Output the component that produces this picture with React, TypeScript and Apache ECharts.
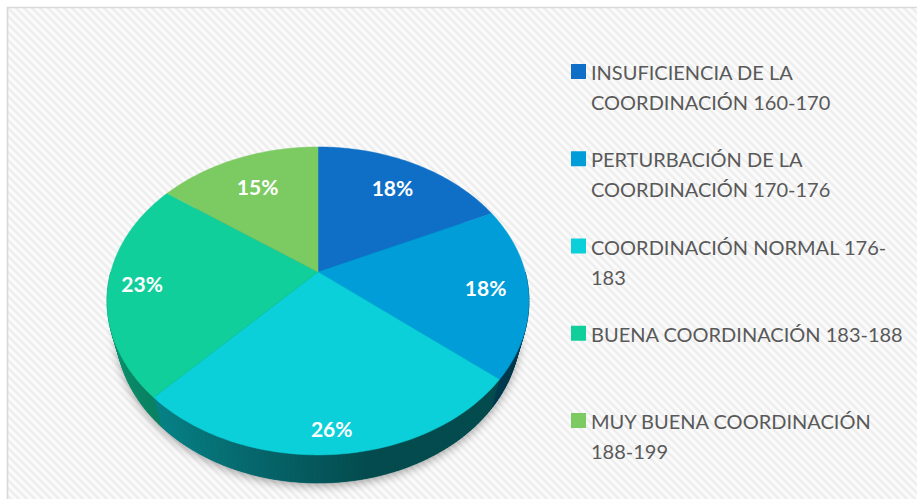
import React, { useEffect, useRef } from "react";
import * as echarts from "echarts";

// ---- data ----
const categories = [
  "INSUFICIENCIA DE LA COORDINACIÓN 160-170",
  "PERTURBACIÓN DE LA COORDINACIÓN 170-176",
  "COORDINACIÓN NORMAL 176-183",
  "BUENA COORDINACIÓN 183-188",
  "MUY BUENA COORDINACIÓN 188-199",
];
const legendLines = [
  ["INSUFICIENCIA DE LA", "COORDINACIÓN 160-170"],
  ["PERTURBACIÓN DE LA", "COORDINACIÓN 170-176"],
  ["COORDINACIÓN NORMAL 176-", "183"],
  ["BUENA COORDINACIÓN 183-188"],
  ["MUY BUENA COORDINACIÓN", "188-199"],
];
const percentages = [18, 18, 26, 23, 15];
const colors = ["#0F6FC6", "#009DD9", "#0BD0D9", "#10CF9B", "#7CCA62"];

// ---- layout / 3D view ----
const CX = 318;
const CY = 272;
const TILT = (45.8 * Math.PI) / 180;
const DIST = 3.71;
const FOCAL = 768.7;
const THICK = 0.22;
const labelRadius = [0.75, 0.8, 0.88, 0.84, 0.72];

function project(X: number, Y: number, Z: number): number[] {
  const up = Y * Math.cos(TILT) + Z * Math.sin(TILT);
  const depth = DIST + Z * Math.cos(TILT) - Y * Math.sin(TILT);
  return [CX + (FOCAL * X) / depth, CY - (FOCAL * up) / depth];
}
function rim(phi: number, r: number, Y: number): number[] {
  return project(r * Math.sin(phi), Y, r * Math.cos(phi));
}
function hexToRgb(h: string) {
  const n = parseInt(h.slice(1), 16);
  return [(n >> 16) & 255, (n >> 8) & 255, n & 255];
}
function shade(hex: string, phi: number) {
  const f = Math.max(0.36, 0.42 + 0.3 * -Math.sin(phi));
  const [r, g, b] = hexToRgb(hex);
  return `rgb(${Math.round(r * f)},${Math.round(g * f)},${Math.round(b * f)})`;
}

const stripeSvg =
  "data:image/svg+xml;utf8," +
  encodeURIComponent(
    "<svg xmlns='http://www.w3.org/2000/svg' width='8' height='8'>" +
      "<rect width='8' height='8' fill='#fbfbfb'/>" +
      "<path d='M-2,6 L2,10 M0,0 L8,8 M6,-2 L10,2' stroke='#eeeeee' stroke-width='2.6'/>" +
      "</svg>"
  );

export default function App() {
  const ref = useRef<HTMLDivElement>(null);
  useEffect(() => {
    if (!ref.current) return;
    const chart = echarts.init(ref.current, undefined, { renderer: "svg" });
    const total = percentages.reduce((a, b) => a + b, 0);
    const starts: number[] = [];
    let acc = 0;
    percentages.forEach((v) => {
      starts.push(acc);
      acc += v;
    });

    const renderItem = (params: any, api: any) => {
      const i = params.dataIndex;
      const v = api.value(0);
      const a0 = (starts[i] / total) * Math.PI * 2;
      const a1 = a0 + (v / total) * Math.PI * 2;
      const children: any[] = [];
      const step = Math.PI / 180;

      // base shadow (once)
      if (i === 0) {
        const pts: number[][] = [];
        for (let k = 0; k <= 360; k += 2) pts.push(rim((k * Math.PI) / 180, 1, -THICK));
        children.push({
          type: "polygon",
          z2: 0,
          shape: { points: pts },
          style: {
            fill: "#055a5e",
            shadowColor: "rgba(0,0,0,0.35)",
            shadowBlur: 10,
            shadowOffsetY: 3,
          },
        });
      }

      // side
      const s0 = Math.max(a0, Math.PI / 2);
      const s1 = Math.min(a1, (Math.PI * 3) / 2);
      if (s1 > s0) {
        const n = Math.max(1, Math.ceil((s1 - s0) / step));
        for (let k = 0; k < n; k++) {
          const p = s0 + ((s1 - s0) * k) / n;
          const q = s0 + ((s1 - s0) * (k + 1)) / n;
          const c = shade(colors[i], (p + q) / 2);
          children.push({
            type: "polygon",
            z2: 1,
            shape: { points: [rim(p, 1, 0), rim(q, 1, 0), rim(q, 1, -THICK), rim(p, 1, -THICK)] },
            style: { fill: c, stroke: c, lineWidth: 0.6 },
          });
        }
      }

      // top face
      const top: number[][] = [[CX, CY]];
      const nt = Math.max(2, Math.ceil((a1 - a0) / step));
      for (let k = 0; k <= nt; k++) top.push(rim(a0 + ((a1 - a0) * k) / nt, 1, 0));
      children.push({
        type: "polygon",
        z2: 2,
        shape: { points: top },
        style: { fill: colors[i], stroke: colors[i], lineWidth: 0.5 },
      });

      // label
      const mid = (a0 + a1) / 2;
      const lp = rim(mid, labelRadius[i], 0);
      children.push({
        type: "text",
        z2: 3,
        x: lp[0],
        y: lp[1],
        style: {
          text: `${v}%`,
          fill: "#ffffff",
          fontFamily: "Lato",
          fontWeight: "bold",
          fontSize: 21,
          align: "center",
          verticalAlign: "middle",
        },
      });
      return { type: "group", children };
    };

    const graphics: any[] = [
      {
        type: "rect",
        silent: true,
        shape: { x: 0, y: 0, width: 917, height: 499 },
        style: { fill: "#ffffff" },
      },
      {
        type: "rect",
        silent: true,
        shape: { x: 8, y: 8, width: 909, height: 491 },
        style: {
          fill: { image: stripeSvg, repeat: "repeat", imageWidth: 8, imageHeight: 8 } as any,
        },
      },
      {
        type: "polyline",
        silent: true,
        shape: { points: [[7.5, 499], [7.5, 7.5], [917, 7.5]] },
        style: { stroke: "#d9d9d9", lineWidth: 1.7, fill: "none" },
      },
    ];
    legendLines.forEach((lines, i) => {
      const top = 64 + 87.25 * i;
      graphics.push({
        type: "rect",
        shape: { x: 571, y: top, width: 15, height: 15 },
        style: { fill: colors[i] },
      });
      lines.forEach((t, j) => {
        graphics.push({
          type: "text",
          x: 591,
          y: top + 8 + 30 * j,
          style: {
            text: t,
            fill: "#595959",
            fontFamily: "Lato",
            fontSize: 20,
            align: "left",
            verticalAlign: "middle",
          },
        });
      });
    });

    chart.setOption({
      animation: false,
      graphic: { elements: graphics },
      series: [
        {
          type: "custom",
          name: "Coordinación",
          coordinateSystem: "none",
          renderItem,
          data: percentages.map((v, i) => ({ name: categories[i], value: [v] })),
        },
      ],
    });
    return () => chart.dispose();
  }, []);
  return (
    <div
      ref={ref}
      style={{ position: "absolute", left: 0, top: 0, width: 917, height: 499 }}
    />
  );
}
